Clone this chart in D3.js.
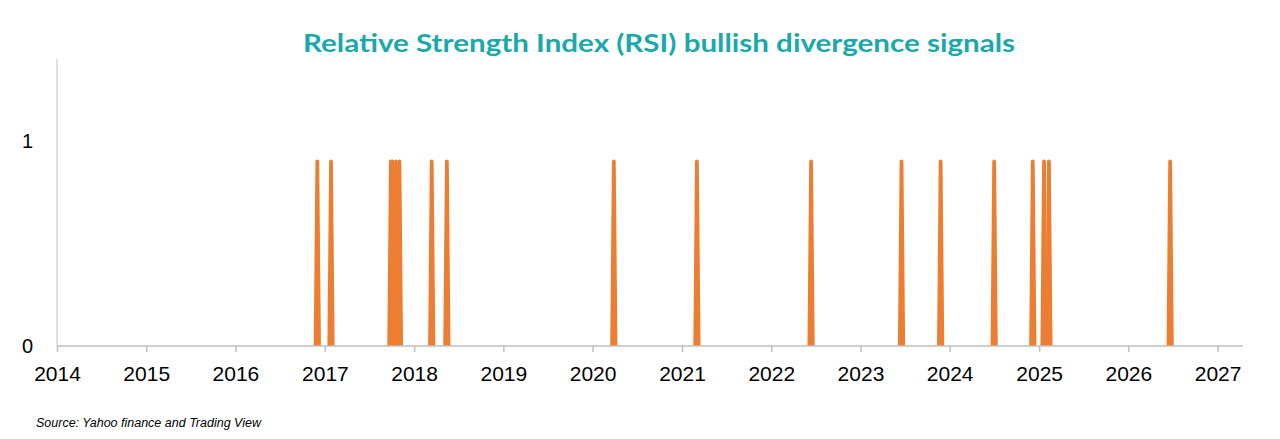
<!DOCTYPE html>
<html>
<head>
<meta charset="utf-8">
<script src="https://cdn.jsdelivr.net/npm/d3@7"></script>
<style>
	body { margin: 0; background: #fff; }
	text { font-family: "Liberation Sans", Arial, sans-serif; }
</style>
</head>
<body>
<script>
// signal dates, each one drawn as a spike
var signalDates = [
	"2016-12-01", "2017-01-26", "2017-09-28", "2017-10-05",
	"2017-10-19", "2017-11-02", "2018-03-14", "2018-05-15",
	"2020-03-28", "2021-03-03", "2022-06-13", "2023-06-18",
	"2023-11-25", "2024-07-01", "2024-12-06", "2025-01-21",
	"2025-02-10", "2026-06-21"
];
var signalValue = 0.9;
var xTickYears = [2014, 2015, 2016, 2017, 2018, 2019, 2020, 2021, 2022, 2023, 2024, 2025, 2026, 2027];
var yTicks = [0, 1];
var titleText = "Relative Strength Index (RSI) bullish divergence signals";
var sourceText = "Source: Yahoo finance and Trading View";

var totalWidth = 1280,
	totalHeight = 439,
	plotLeft = 57,
	plotRight = 1243,
	plotTop = 59,
	plotBottom = 346;

var parse = d3.timeParse("%Y-%m-%d");
var week = 7 * 24 * 3600 * 1000;

var xScale = d3.scaleTime()
	.domain([new Date(2014, 0, 1), new Date(2027, 3, 15)])
	.range([plotLeft, plotRight]);

var yScale = d3.scaleLinear()
	.domain([0, 1.4])
	.range([plotBottom, plotTop]);

var svg = d3.select("body").append("svg")
	.attr("width", totalWidth)
	.attr("height", totalHeight);

// title
svg.append("text")
	.attr("x", 303)
	.attr("y", 52)
	.attr("textLength", 712)
	.attr("lengthAdjust", "spacingAndGlyphs")
	.style("font-family", "Lato, 'Open Sans', sans-serif")
	.style("font-weight", "bold")
	.style("font-size", "25px")
	.style("fill", "#1aa9aa")
	.text(titleText);

// vertical axis line, no ticks
svg.append("line")
	.attr("x1", plotLeft).attr("x2", plotLeft)
	.attr("y1", plotTop).attr("y2", plotBottom)
	.style("stroke", "#d9d9d9")
	.style("stroke-width", 1.5);

svg.append("g")
	.selectAll("text")
	.data(yTicks)
	.enter().append("text")
	.attr("x", 33)
	.attr("y", d => yScale(d))
	.attr("dy", "0.36em")
	.attr("text-anchor", "end")
	.style("font-size", "20px")
	.style("fill", "#000")
	.text(d => d);

// spikes: zero a week before, peak, zero a week after
var line = d3.line()
	.x(d => xScale(d[0]))
	.y(d => yScale(d[1]));

svg.append("g")
	.selectAll("path")
	.data(signalDates)
	.enter().append("path")
	.attr("d", s => {
		var t = parse(s).getTime();
		return line([[new Date(t - week), 0], [new Date(t), signalValue], [new Date(t + week), 0]]);
	})
	.style("fill", "none")
	.style("stroke", "#ed7d31")
	.style("stroke-width", 3.8)
	.style("stroke-linejoin", "round");

// x axis on top of spikes
var xAxis = d3.axisBottom(xScale)
	.tickValues(xTickYears.map(y => new Date(y, 0, 1)))
	.tickFormat(d3.timeFormat("%Y"))
	.tickSizeInner(6)
	.tickSizeOuter(0)
	.tickPadding(14);

var gx = svg.append("g")
	.attr("transform", "translate(0," + plotBottom + ")")
	.call(xAxis);

gx.select(".domain")
	.attr("d", "M" + plotLeft + ",0H" + plotRight)
	.style("stroke", "#bfbfbf")
	.style("stroke-width", 1.5);
gx.selectAll(".tick line")
	.style("stroke", "#bfbfbf")
	.style("stroke-width", 1.5);
gx.selectAll(".tick text")
	.style("font-family", "'Liberation Sans', Arial, sans-serif")
	.style("font-size", "21px")
	.style("fill", "#000");

// source note
svg.append("text")
	.attr("x", 36)
	.attr("y", 427)
	.style("font-size", "12.5px")
	.style("font-style", "italic")
	.style("fill", "#000")
	.text(sourceText);
</script>
</body>
</html>
